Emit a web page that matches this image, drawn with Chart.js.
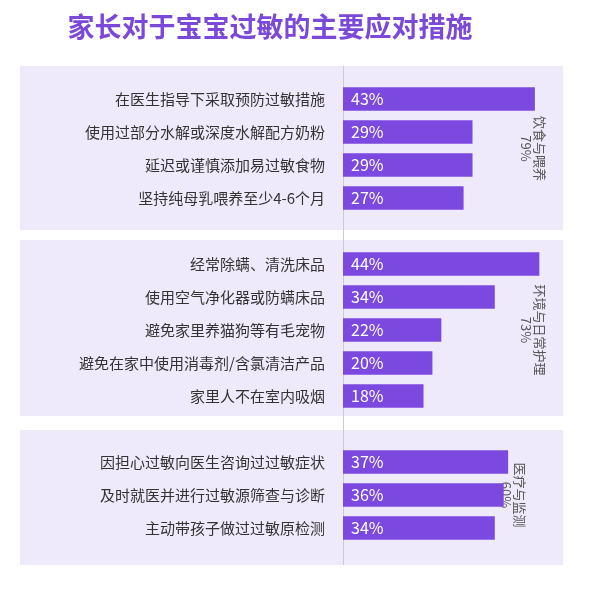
<!DOCTYPE html><html><head><meta charset="utf-8"><script src="https://cdn.jsdelivr.net/npm/chart.js@4"></script>
<style>body{margin:0;background:#fff}#w{width:600px;height:595px}</style></head><body><div id="w"><canvas id="c"></canvas></div><script>
const categories=["在医生指导下采取预防过敏措施","使用过部分水解或深度水解配方奶粉","延迟或谨慎添加易过敏食物","坚持纯母乳喂养至少4-6个月","","经常除螨、清洗床品","使用空气净化器或防螨床品","避免家里养猫狗等有毛宠物","避免在家中使用消毒剂/含氯清洁产品","家里人不在室内吸烟","","因担心过敏向医生咨询过过敏症状","及时就医并进行过敏源筛查与诊断","主动带孩子做过过敏原检测"];
const values=[43,29,29,27,null,44,34,22,20,18,null,37,36,34];
const groupNames=["饮食与喂养","环境与日常护理","医疗与监测"];
const groupTotals=["79%","73%","60%"];
const groupRanges=[[0,3],[5,9],[11,13]];
const FONT='"Noto Sans CJK SC","Noto Sans",sans-serif';
const deco={id:'deco',beforeDraw(ch){const c=ch.ctx,y=ch.scales.y,x=ch.scales.x;c.save();
c.fillStyle='#7b48d9';c.font='bold 27px '+FONT;c.textAlign='center';c.textBaseline='middle';c.fillText('家长对于宝宝过敏的主要应对措施',270,27);
const pads=[[33,32],[24,20],[32,37]];
groupRanges.forEach((r,i)=>{const t=y.getPixelForValue(r[0])-pads[i][0],b=y.getPixelForValue(r[1])+pads[i][1];c.fillStyle='#efeafb';c.fillRect(20,t,543,b-t);});
c.strokeStyle='#cccccc';c.lineWidth=1;c.beginPath();c.moveTo(x.left+0.5,y.getPixelForValue(0)-33);c.lineTo(x.left+0.5,y.getPixelForValue(13)+37);c.stroke();
c.fillStyle='#333';c.font='15px '+FONT;c.textAlign='right';
categories.forEach((l,i)=>{if(l)c.fillText(l,325,y.getPixelForValue(i));});
const gx=[534,534,514];
groupRanges.forEach((r,i)=>{const cy=(y.getPixelForValue(r[0])+y.getPixelForValue(r[1]))/2;c.save();c.translate(gx[i],cy);c.rotate(Math.PI/2);c.fillStyle='#555';c.font='13px '+FONT;c.textAlign='center';c.fillText(groupNames[i],0,-6);c.fillText(groupTotals[i],0,8);c.restore();});
c.restore();},
afterDatasetsDraw(ch){const c=ch.ctx,m=ch.getDatasetMeta(0);c.save();c.fillStyle='#fff';c.font='16px '+FONT;c.textBaseline='middle';c.textAlign='left';
m.data.forEach((b,i)=>{if(values[i]!=null)c.fillText(values[i]+'%',ch.scales.x.left+8,b.y);});c.restore();}};
new Chart(document.getElementById('c'),{type:'bar',data:{labels:categories,datasets:[{data:values,backgroundColor:'#7b48e0',barThickness:23,borderWidth:0}]},
options:{indexAxis:'y',responsive:true,maintainAspectRatio:false,animation:false,layout:{padding:{top:82.5,bottom:50.5,right:12,left:0}},
plugins:{legend:{display:false},tooltip:{enabled:false}},
scales:{x:{min:0,max:55,display:false},y:{ticks:{display:false},grid:{display:false},border:{display:false},afterFit(s){s.width=343;}}}},plugins:[deco]});
</script></body></html>
